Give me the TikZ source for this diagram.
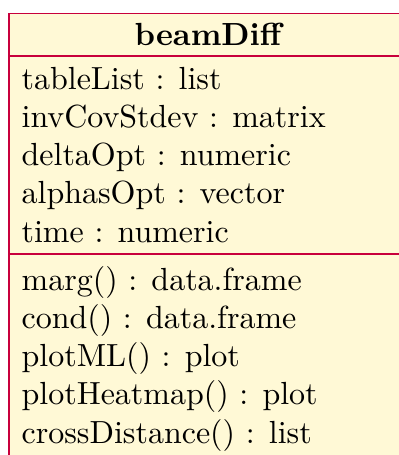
\documentclass[tikz,border=0pt]{standalone}
\usepackage{tikz}
\usetikzlibrary{positioning}
\definecolor{umlline}{RGB}{200,0,60}
\definecolor{umlfill}{RGB}{255,249,214}
\tikzstyle{classbox}=[rectangle,draw=umlline,fill=umlfill,line width=0.4pt,inner sep=0pt,anchor=north west,minimum width=124.7pt,minimum height=140.5pt]
\tikzstyle{classline}=[draw=umlline,line width=0.4pt]
\tikzstyle{title}=[anchor=base,inner sep=0pt,font=\bfseries]
\tikzstyle{member}=[anchor=base west,inner sep=0pt]

\begin{document}
\begin{tikzpicture}[x=0.3125pt,y=-0.3125pt]
\useasboundingbox (0,0) rectangle (399,455);
\clip (0,0) rectangle (399,455);
\node[classbox] (beamDiff) at (8.5,12.5) {};
\node[title] (name) at (208,45) {beamDiff};
\draw[classline] (beamDiff.west |- 0,56) -- (beamDiff.east |- 0,56);
\draw[classline] (beamDiff.west |- 0,254) -- (beamDiff.east |- 0,254);
% attributes
\node[member] (tableList) at (21,89) {tableList : list};
\node[member] (invCovStdev) at (21,127.25) {invCovStdev : matrix};
\node[member] (deltaOpt) at (21,165.5) {deltaOpt : numeric};
\node[member] (alphasOpt) at (21,203.75) {alphasOpt : vector};
\node[member] (time) at (21,242) {time : numeric};
% operations
\node[member] (marg) at (21,290) {marg() : data.frame};
\node[member] (cond) at (21,328.25) {cond() : data.frame};
\node[member] (plotML) at (21,366.5) {plotML() : plot};
\node[member] (plotHeatmap) at (21,404.75) {plotHeatmap() : plot};
\node[member] (crossDistance) at (21,443) {crossDistance() : list};
\end{tikzpicture}
\end{document}
